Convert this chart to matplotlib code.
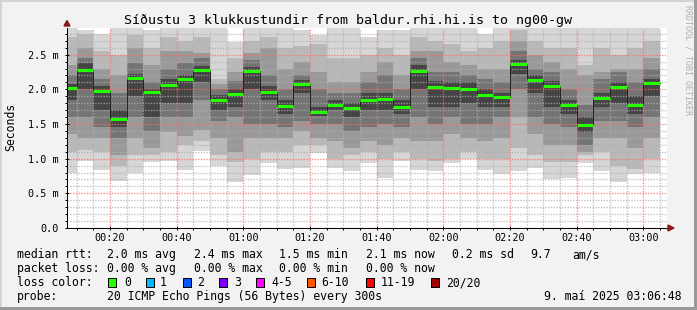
import matplotlib
matplotlib.use("Agg")
import matplotlib.pyplot as plt
from matplotlib.patches import Rectangle, Polygon
from matplotlib.ticker import MultipleLocator, FuncFormatter
import numpy as np

W, H = 697, 310
MONO = "DejaVu Sans Mono"
plt.rcParams["font.family"] = MONO

# start of each 5 minute interval, minutes after midnight
bar_start = list(range(5, 185, 5))

# median rtt per interval (ms)
median = [2.02, 2.28, 1.98, 1.57, 2.16, 1.96, 2.06, 2.15, 2.28, 1.84, 1.94, 2.27,
          1.96, 1.76, 2.08, 1.67, 1.78, 1.73, 1.84, 1.86, 1.75, 2.27, 2.03, 2.02,
          2.01, 1.92, 1.89, 2.36, 2.14, 2.05, 1.78, 1.48, 1.88, 2.04, 1.78, 2.09]

# smoke: sorted ping levels per interval (ms), p0 lowest .. p9 highest
p0 = [0.80, 0.96, 0.84, 0.68, 0.79, 0.95, 0.97, 0.83, 1.11, 0.89, 0.67, 0.77,
      0.94, 0.85, 0.86, 1.08, 0.86, 0.82, 0.94, 0.72, 0.96, 0.83, 0.82, 0.94,
      1.00, 0.84, 0.78, 0.82, 0.87, 0.70, 0.72, 0.94, 0.82, 0.67, 0.78, 0.79]
p1 = [1.10, 1.12, 1.10, 0.90, 1.05, 1.05, 1.10, 1.20, 1.25, 1.05, 0.95, 1.00,
      1.10, 1.10, 1.20, 1.20, 1.00, 1.05, 1.10, 1.00, 1.10, 1.00, 0.97, 1.00,
      1.10, 1.00, 1.00, 1.15, 1.05, 0.95, 0.95, 1.05, 1.10, 0.90, 0.85, 1.00]
p2 = [1.35, 1.30, 1.30, 1.05, 1.30, 1.15, 1.38, 1.33, 1.42, 1.30, 1.10, 1.30,
      1.30, 1.30, 1.40, 1.30, 1.25, 1.15, 1.25, 1.20, 1.30, 1.25, 1.25, 1.35,
      1.30, 1.25, 1.30, 1.60, 1.35, 1.20, 1.20, 1.10, 1.30, 1.30, 1.15, 1.30]
p3 = [1.60, 1.60, 1.45, 1.30, 1.60, 1.40, 1.60, 1.60, 1.85, 1.55, 1.60, 1.50,
      1.50, 1.45, 1.55, 1.50, 1.50, 1.40, 1.45, 1.50, 1.45, 1.60, 1.50, 1.60,
      1.50, 1.50, 1.60, 2.00, 1.60, 1.50, 1.45, 1.20, 1.55, 1.55, 1.45, 1.60]
p4 = [1.85, 2.00, 1.70, 1.45, 1.90, 1.60, 1.80, 1.80, 2.10, 1.70, 1.75, 2.00,
      1.85, 1.65, 1.95, 1.62, 1.70, 1.60, 1.70, 1.70, 1.65, 2.00, 1.75, 1.75,
      1.80, 1.75, 1.75, 2.22, 1.95, 1.75, 1.65, 1.38, 1.75, 1.80, 1.65, 1.90]
p5 = [2.08, 2.38, 2.05, 1.70, 2.22, 2.00, 2.15, 2.20, 2.33, 1.92, 2.00, 2.32,
      2.05, 1.85, 2.13, 1.75, 1.85, 1.80, 1.95, 1.95, 1.85, 2.35, 2.12, 2.10,
      2.10, 2.00, 1.95, 2.42, 2.20, 2.12, 1.85, 1.60, 1.95, 2.10, 1.90, 2.15]
p6 = [2.20, 2.45, 2.15, 1.95, 2.38, 2.10, 2.30, 2.38, 2.45, 2.00, 2.12, 2.42,
      2.20, 2.00, 2.20, 2.00, 1.95, 1.95, 2.10, 2.20, 2.00, 2.45, 2.25, 2.25,
      2.20, 2.15, 2.10, 2.55, 2.30, 2.25, 2.00, 1.78, 2.15, 2.25, 2.10, 2.30]
p7 = [2.35, 2.60, 2.30, 2.20, 2.60, 2.35, 2.55, 2.55, 2.52, 2.08, 2.25, 2.52,
      2.60, 2.30, 2.40, 2.25, 2.10, 2.10, 2.25, 2.40, 2.20, 2.55, 2.55, 2.40,
      2.35, 2.30, 2.30, 2.70, 2.50, 2.40, 2.30, 2.20, 2.25, 2.30, 2.30, 2.45]
p8 = [2.75, 2.80, 2.55, 2.50, 2.78, 2.60, 2.75, 2.70, 2.75, 2.15, 2.45, 2.70,
      2.75, 2.60, 2.62, 2.65, 2.45, 2.45, 2.50, 2.60, 2.50, 2.75, 2.70, 2.65,
      2.55, 2.60, 2.70, 2.85, 2.70, 2.60, 2.60, 2.35, 2.60, 2.50, 2.60, 2.70]
p9 = [3.00, 2.85, 2.80, 2.95, 2.95, 2.85, 2.95, 2.95, 2.95, 2.95, 2.68, 2.95,
      2.95, 2.95, 2.85, 2.78, 2.95, 2.95, 2.75, 2.85, 2.85, 2.95, 2.95, 2.95,
      2.95, 2.80, 2.95, 2.95, 2.95, 2.95, 2.95, 2.95, 2.95, 2.95, 2.95, 2.95]

loss_labels = ["0", "1", "2", "3", "4-5", "6-10", "11-19", "20/20"]
loss_colors = ["#26ff00", "#00b8ff", "#0059ff", "#7e00ff", "#ff00ff",
               "#ff5500", "#ff0000", "#a00000"]


def fx(x):
    return x / W


def fy(y):
    return 1 - y / H


fig = plt.figure(figsize=(W / 100, H / 100), dpi=100, facecolor="#f2f2f2")
ax = fig.add_axes([fx(67), fy(228), 600 / W, 200 / H])
ax.set_facecolor("white")

# smoke bands, outermost (lightest) first
levels = [p0, p1, p2, p3, p4, p5, p6, p7, p8, p9]
greys = ["#d6d6d6", "#b9b9b9", "#999999", "#747474", "#444444"]
for i in range(5):
    lo = np.array(levels[i])
    hi = np.array(levels[9 - i])
    ax.bar(bar_start, hi - lo, bottom=lo, width=5, align="edge",
           color=greys[i], linewidth=0, antialiased=False, zorder=1)

edges = bar_start + [bar_start[-1] + 5]
ax.step(edges, median + [median[-1]], where="post", color="#202020",
        lw=0.7, zorder=3)
ax.hlines(median, bar_start, [s + 5 for s in bar_start], colors=loss_colors[0],
          lw=2.2, zorder=4)

ax.set_xlim(7.1, 187.1)
ax.set_ylim(0, 2.885)
ax.xaxis.set_major_locator(MultipleLocator(20))
ax.xaxis.set_minor_locator(MultipleLocator(5))
ax.yaxis.set_major_locator(MultipleLocator(0.5))
ax.yaxis.set_minor_locator(MultipleLocator(0.1))
ax.xaxis.set_major_formatter(FuncFormatter(
    lambda m, p: f"{int(round(m)) // 60:02d}:{int(round(m)) % 60:02d}"))
ax.yaxis.set_major_formatter(FuncFormatter(
    lambda v, p: "0.0" if abs(v) < 1e-9 else f"{v:.1f} m"))

ax.set_axisbelow(False)
ax.grid(which="minor", color="#b0b0b0", ls=(0, (1, 1)), lw=1.0, alpha=0.75,
        zorder=5, snap=True)
ax.grid(which="major", color="#ff6a6a", ls=(0, (1, 1)), lw=1.0, alpha=0.75,
        zorder=5, snap=True)

for s in ["top", "right"]:
    ax.spines[s].set_visible(False)
for s in ["left", "bottom"]:
    ax.spines[s].set_color("black")
    ax.spines[s].set_linewidth(0.72)
    ax.spines[s].set_zorder(6)
ax.tick_params(which="major", length=2.5, width=0.72, direction="inout",
               labelsize=7.3, pad=2.5)
ax.tick_params(which="minor", length=1.5, width=0.72, direction="out")
ax.tick_params(axis="y", pad=5)

# axis arrows
fig.add_artist(Polygon([(fx(64), fy(26)), (fx(70), fy(26)), (fx(67), fy(20.5))],
                       closed=True, color="#8b1a1a", transform=fig.transFigure))
fig.add_artist(Polygon([(fx(668), fy(225)), (fx(668), fy(231)), (fx(674), fy(228))],
                       closed=True, color="#8b1a1a", transform=fig.transFigure))

# title and side texts
fig.text(0.5, fy(24), "Síðustu 3 klukkustundir from baldur.rhi.hi.is to ng00-gw",
         ha="center", va="baseline", fontsize=9.6)
fig.text(fx(10.5), fy(126.5), "Seconds", rotation=90, ha="center", va="center",
         fontsize=8.3)
fig.text(fx(688), fy(60), "RRDTOOL / TOBI OETIKER", rotation=-90, ha="center",
         va="center", fontsize=6, color="#b0b0b0")

# legend
fs = 8.3
rows = [
    (258, [(16.7, "median rtt:"), (107.3, "2.0 ms avg"), (194, "2.4 ms max"),
           (279.3, "1.5 ms min"), (365.7, "2.1 ms now"), (451.7, "0.2 ms sd"),
           (530, "9.7"), (572.7, "am/s")]),
    (272, [(16.7, "packet loss:"), (107.3, "0.00 % avg"), (194, "0.00 % max"),
           (279.3, "0.00 % min"), (365.7, "0.00 % now")]),
    (286, [(16.7, "loss color:")]),
    (300, [(16.7, "probe:"), (107.3, "20 ICMP Echo Pings (56 Bytes) every 300s")]),
]
for yb, items in rows:
    for xx, t in items:
        fig.text(fx(xx), fy(yb), t, ha="left", va="baseline", fontsize=fs)
fig.text(fx(681), fy(300), "9. maí 2025 03:06:48", ha="right", va="baseline",
         fontsize=fs)

box_x = [108.3, 146, 182.7, 219.3, 256, 307.3, 365.7, 430.7]
lab_x = [124, 160, 196.7, 234.3, 271.7, 321.7, 380.7, 445.7]
for bx, lx, c, lab in zip(box_x, lab_x, loss_colors, loss_labels):
    fig.add_artist(Rectangle((fx(bx), fy(286.5)), 8 / W, 9 / H, facecolor=c,
                             edgecolor="black", lw=0.72, transform=fig.transFigure))
    fig.text(fx(lx), fy(286), lab, ha="left", va="baseline", fontsize=fs)

# 3d frame
fig.add_artist(Rectangle((0, fy(2)), 1, 2 / H, color="#d4d4d4", lw=0,
                         transform=fig.transFigure))
fig.add_artist(Rectangle((0, 0), 2 / W, 1, color="#d4d4d4", lw=0,
                         transform=fig.transFigure))
fig.add_artist(Rectangle((0, 0), 1, 3 / H, color="#9a9a9a", lw=0,
                         transform=fig.transFigure))
fig.add_artist(Rectangle((fx(694), 0), 3 / W, 1, color="#9a9a9a", lw=0,
                         transform=fig.transFigure))

fig.savefig("out.png", dpi=100, facecolor=fig.get_facecolor())
